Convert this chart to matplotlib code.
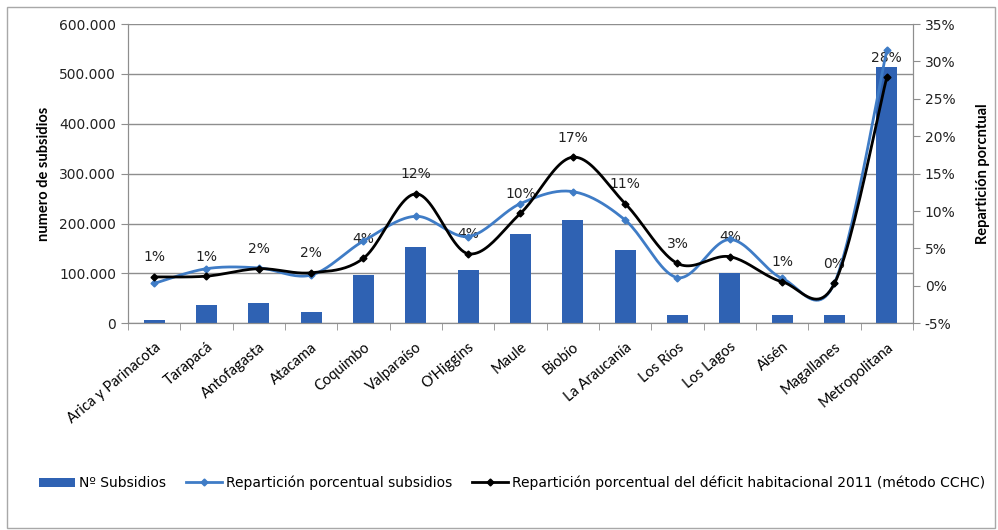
import numpy as np
import matplotlib
matplotlib.use("Agg")
import matplotlib.pyplot as plt
from matplotlib.patches import Rectangle, Patch
from matplotlib.lines import Line2D
from matplotlib.ticker import FuncFormatter, MultipleLocator

regiones = ["Arica y Parinacota", "Tarapacá", "Antofagasta", "Atacama", "Coquimbo",
            "Valparaíso", "O'Higgins", "Maule", "Biobío", "La Araucanía",
            "Los Ríos", "Los Lagos", "Aisén", "Magallanes", "Metropolitana"]

# numero de subsidios por region
subsidios = [7000, 37000, 40000, 23000, 96000, 153000, 107000, 180000, 207000,
             147000, 16500, 101000, 16500, 16500, 513000]

# repartición porcentual (%)
rep_subsidios = [0.33, 2.3, 2.4, 1.45, 6.0, 9.3, 6.6, 11.0, 12.6, 8.8,
                 1.1, 6.2, 1.0, 0.4, 31.5]
rep_deficit = [1.2, 1.3, 2.3, 1.75, 3.7, 12.3, 4.3, 9.7, 17.2, 11.0,
               3.0, 3.9, 0.55, 0.33, 27.9]

BAR = "#2f62b3"
BLUE = "#3f7cc6"
GRID = "#8e8e8e"


def smooth(xs, ys, n=24):
    # curva suavizada tipo Excel (Bezier con tangentes Catmull-Rom)
    p = np.column_stack([xs, ys]).astype(float)
    p = np.vstack([p[0], p, p[-1]])
    out = []
    for i in range(1, len(p) - 2):
        p0, p1, p2, p3 = p[i - 1], p[i], p[i + 1], p[i + 2]
        c1 = p1 + (p2 - p0) / 6
        c2 = p2 - (p3 - p1) / 6
        t = np.linspace(0, 1, n)[:, None]
        seg = ((1 - t) ** 3) * p1 + 3 * ((1 - t) ** 2) * t * c1 + 3 * (1 - t) * t ** 2 * c2 + t ** 3 * p2
        out.append(seg if i == 1 else seg[1:])
    out = np.vstack(out)
    return out[:, 0], out[:, 1]


fig = plt.figure(figsize=(9.98, 5.30), dpi=100)
ax = fig.add_axes([128 / 998, 1 - 323.3 / 530, 785 / 998, 299.3 / 530])
ax2 = ax.twinx()

x = np.arange(len(regiones))
ax.bar(x, subsidios, width=0.4, color=BAR, zorder=2)

ax.set_xlim(-0.5, len(regiones) - 0.5)
ax.set_ylim(0, 600000)
ax.yaxis.set_major_locator(MultipleLocator(100000))
ax.yaxis.set_major_formatter(FuncFormatter(lambda v, _: f"{int(v):,}".replace(",", ".")))
ax.grid(axis="y", color=GRID, lw=1, zorder=0)
ax.set_axisbelow(True)

ax.set_xticks(x)
ax.set_xticklabels(regiones, rotation=40, ha="right", rotation_mode="anchor",
                   family="Lato", fontsize=10.5)
ax.tick_params(axis="x", which="major", length=0, pad=12)
ax.set_xticks(np.arange(-0.5, len(regiones)), minor=True)
ax.tick_params(axis="x", which="minor", length=5, color=GRID, direction="out")
ax.tick_params(axis="y", length=5, color=GRID, labelsize=10, labelcolor="#222222")

for a in (ax, ax2):
    a.spines["top"].set_visible(False)
    for sp in ["left", "right", "bottom"]:
        a.spines[sp].set_color(GRID)

ax.set_ylabel("numero de subsidios", family="Lato", fontweight="bold", fontsize=10.5)
ax.yaxis.set_label_coords(-0.098, 0.5)

# lineas de repartición en eje secundario
sx, sy = smooth(x, rep_subsidios)
ax2.plot(sx, sy, color=BLUE, lw=2.0, zorder=3)
ax2.plot(x, rep_subsidios, ls="none", marker="D", ms=3.5, color=BLUE, zorder=3)
dx, dy = smooth(x, rep_deficit)
ax2.plot(dx, dy, color="black", lw=2.0, zorder=4)
ax2.plot(x, rep_deficit, ls="none", marker="D", ms=3.5, color="black", zorder=4)

for xi, v in zip(x, rep_deficit):
    ax2.annotate(f"{round(v)}%", (xi, v), xytext=(0, 14), textcoords="offset points",
                 ha="center", va="center", fontsize=10, color="#222222", zorder=2)

ax2.set_ylim(-5, 35)
ax2.yaxis.set_major_locator(MultipleLocator(5))
ax2.yaxis.set_major_formatter(FuncFormatter(lambda v, _: f"{int(round(v))}%"))
ax2.tick_params(axis="y", length=5, color=GRID, labelsize=10, labelcolor="#222222")
ax2.set_ylabel("Repartición porcntual", family="Lato", fontweight="bold", fontsize=10.5)
ax2.yaxis.set_label_coords(1.08, 0.5)

handles = [
    Patch(facecolor=BAR, edgecolor="none"),
    Line2D([], [], color=BLUE, lw=2, marker="D", ms=3.5),
    Line2D([], [], color="black", lw=2, marker="D", ms=3.5),
]
labels = ["Nº Subsidios", "Repartición porcentual subsidios",
          "Repartición porcentual del déficit habitacional 2011 (método CCHC)"]
fig.legend(handles, labels, loc="center", bbox_to_anchor=(512 / 998, 1 - 483 / 530),
           ncol=3, frameon=False, fontsize=10, handlelength=2.6, handleheight=0.7,
           handletextpad=0.3, columnspacing=1.4)

fig.patches.append(Rectangle((7 / 998, 2 / 530), 0.99, 1 - 9 / 530, transform=fig.transFigure,
                             fill=False, edgecolor="#a8a8a8", lw=1))

fig.savefig("out.png", dpi=100)
